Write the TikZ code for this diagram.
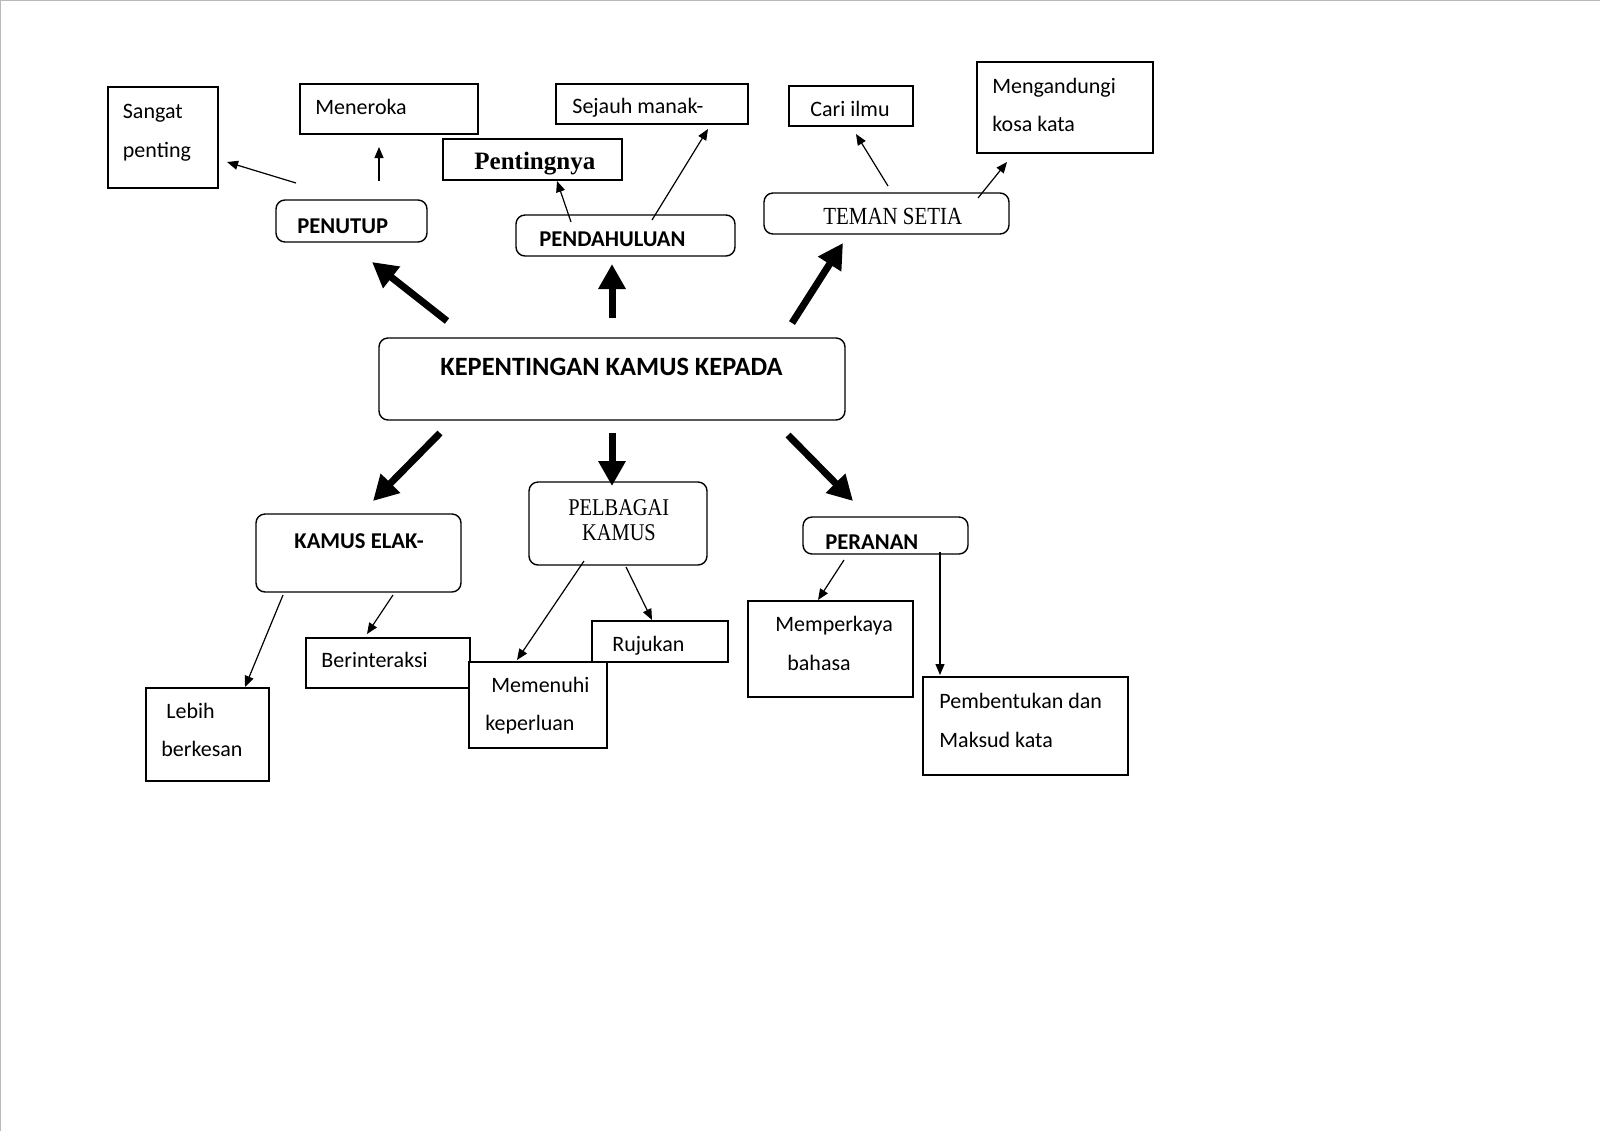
\documentclass[tikz,border=0pt]{standalone}
\usepackage{fontspec}
\setmainfont{Carlito}
\newfontfamily\serifc[FakeStretch=0.85]{Liberation Serif}
\newfontfamily\serifb{Liberation Serif}
\usetikzlibrary{arrows.meta,fit}
\begin{document}
\begin{tikzpicture}[x=0.5pt,y=-0.5pt,
  box/.style={draw, line width=0.7pt, fill=white, inner sep=0pt, rectangle},
  rbox/.style={box, rounded corners=4.5pt},
  txt/.style={anchor=base west, inner sep=0pt, font=\fontsize{11}{13}\selectfont},
  btxt/.style={anchor=base west, inner sep=0pt, font=\fontsize{11.3}{13}\selectfont\bfseries},
  stxt/.style={anchor=base, inner sep=0pt, font=\fontsize{12}{14}\selectfont\serifc},
  thinarrow/.style={line width=0.6pt, -{Triangle[length=5.5pt,width=4.5pt]}},
  thickarrow/.style={line width=3.5pt, -{Triangle[length=12.5pt,width=13pt]}}]
\useasboundingbox (0,0) rectangle (1600,1131);
\fill[white] (0,0) rectangle (1600,1131);
\draw[gray!55, line width=0.75pt] (0.5,1131) -- (0.5,0.5) -- (1600,0.5);

% ---------- boxes ----------
\node[box,  fit={(108,87) (218,188)}] (sangat) {};
\node[box,  fit={(300,84) (478,134)}] (meneroka) {};
\node[rbox, fit={(276,200) (427,242)}] (penutup) {};
\node[box,  fit={(443,139) (622,180)}] (pentingnya) {};
\node[box,  fit={(556,84) (748,124)}] (sejauh) {};
\node[rbox, fit={(516,215) (735,256)}] (pendahuluan) {};
\node[box,  fit={(789,86) (913,126)}] (cari) {};
\node[box,  fit={(977,62) (1153,153)}] (mengandungi) {};
\node[rbox, fit={(764,193) (1009,234)}] (teman) {};
\node[rbox, fit={(379,338) (845,420)}] (main) {};
\node[rbox, fit={(256,514) (461,592)}] (elak) {};
\node[rbox, fit={(529,482) (707,565)}] (pelbagai) {};
\node[box,  fit={(306,638) (470,688)}] (berinteraksi) {};
\node[box,  fit={(146,688) (269,781)}] (lebih) {};
\node[box,  fit={(592,621) (728,662)}] (rujukan) {};
\node[box,  fit={(469,662) (607,748)}] (memenuhi) {};
\node[rbox, fit={(803,517) (968,554)}] (peranan) {};
\node[box,  fit={(748,601) (913,697)}] (memperkaya) {};
\node[box,  fit={(923,677) (1128,775)}] (pembentukan) {};

% ---------- texts ----------
\node[txt] (t1) at (122.5,118) {Sangat};
\node[txt] (t2) at (122.5,157) {penting};
\node[txt] (t3) at (315,114) {Meneroka};
\node[btxt] (t4) at (297,233) {PENUTUP};
\node[anchor=base west, inner sep=0pt, font=\fontsize{12.5}{14}\selectfont\serifb\bfseries] (t5) at (474,169.5) {Pentingnya};
\node[txt] (t6) at (572,113) {Sejauh manak-};
\node[btxt] (t7) at (539,246) {PENDAHULUAN};
\node[txt] (t8) at (810,116) {Cari ilmu};
\node[txt] (t9) at (992,93.3) {Mengandungi};
\node[txt] (t10) at (992,131.7) {kosa kata};
\node[anchor=base west, inner sep=0pt, font=\fontsize{12.3}{14}\selectfont\serifc] (t11) at (823,224) {TEMAN SETIA};
\node[anchor=base west, inner sep=0pt, font=\fontsize{13.2}{15}\selectfont\bfseries] (t12) at (440,375) {KEPENTINGAN KAMUS KEPADA};
\node[btxt] (t13) at (294,548) {KAMUS ELAK-};
\node[stxt] (t14) at (618.8,515) {PELBAGAI};
\node[stxt] (t15) at (619,540.7) {KAMUS};
\node[txt] (t16) at (321,667) {Berinteraksi};
\node[txt] (t17) at (166,718.3) {Lebih};
\node[txt] (t18) at (161,756.7) {berkesan};
\node[txt] (t19) at (491,692) {Memenuhi};
\node[txt] (t20) at (485,730) {keperluan};
\node[txt] (t21) at (612,651) {Rujukan};
\node[btxt] (t22) at (825,549) {PERANAN};
\node[txt] (t23) at (775,631) {Memperkaya};
\node[txt] (t24) at (787,670) {bahasa};
\node[txt] (t25) at (939,708) {Pembentukan dan};
\node[txt] (t26) at (939,747) {Maksud kata};

% ---------- connector end points ----------
\coordinate (a1s) at (296,183);  \coordinate (a1e) at (227,162);
\coordinate (a2s) at (379,181);  \coordinate (a2e) at (379,147);
\coordinate (a3s) at (571,222);  \coordinate (a3e) at (557,181);
\coordinate (a4s) at (652,220);  \coordinate (a4e) at (708,129);
\coordinate (a5s) at (888,186);  \coordinate (a5e) at (856,134);
\coordinate (a6s) at (978,198);  \coordinate (a6e) at (1007,162);
\coordinate (a7s) at (283,595);  \coordinate (a7e) at (245,687);
\coordinate (a8s) at (393,595);  \coordinate (a8e) at (367,634);
\coordinate (a9s) at (584,561);  \coordinate (a9e) at (517,660);
\coordinate (a10s) at (626,567); \coordinate (a10e) at (652,620);
\coordinate (a11s) at (844,560); \coordinate (a11e) at (818,600);
\coordinate (a12s) at (940,552); \coordinate (a12e) at (940,675);

\coordinate (T1s) at (447,321); \coordinate (T1e) at (372,262);
\coordinate (T2s) at (612,318); \coordinate (T2e) at (612,264);
\coordinate (T3s) at (792,323); \coordinate (T3e) at (843,243);
\coordinate (T4s) at (440,433); \coordinate (T4e) at (373,501);
\coordinate (T5s) at (612,433); \coordinate (T5e) at (612,486);
\coordinate (T6s) at (788,435); \coordinate (T6e) at (853,501);

% ---------- connectors ----------
\foreach \i in {1,...,12} \draw[thinarrow] (a\i s) -- (a\i e);
\foreach \i in {1,...,6} \draw[thickarrow] (T\i s) -- (T\i e);
\end{tikzpicture}
\end{document}
